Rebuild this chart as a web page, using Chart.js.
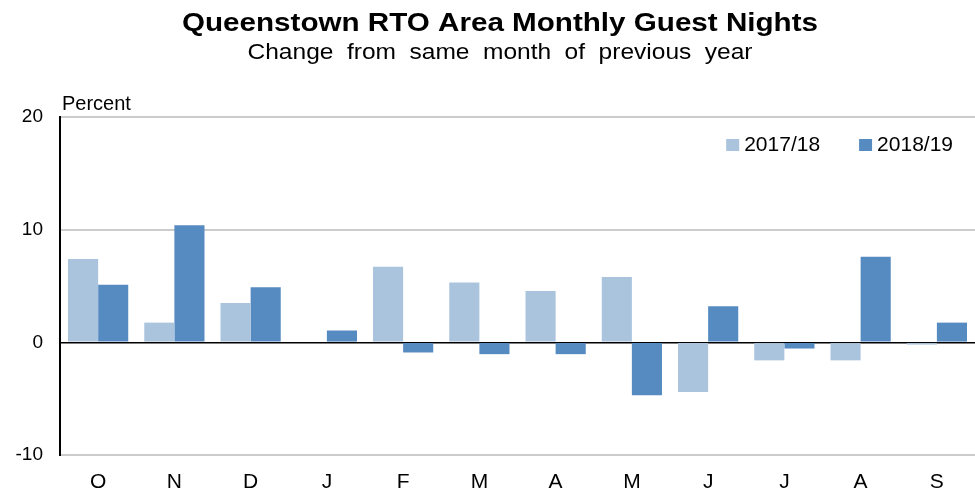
<!DOCTYPE html>
<html>
<head>
<meta charset="utf-8">
<script src="https://cdn.jsdelivr.net/npm/chart.js@4"></script>
<style>
  html, body { margin: 0; padding: 0; background: #fff; }
  #wrap { width: 975px; height: 494px; }
</style>
</head>
<body>
<div id="wrap"><canvas id="chart"></canvas></div>
<script>
const months = ['O', 'N', 'D', 'J', 'F', 'M', 'A', 'M', 'J', 'J', 'A', 'S'];
const season1718 = [7.4, 1.75, 3.5, 0, 6.7, 5.3, 4.55, 5.8, -4.4, -1.6, -1.6, -0.2];
const season1819 = [5.1, 10.4, 4.9, 1.05, -0.9, -1.05, -1.05, -4.7, 3.2, -0.55, 7.6, 1.75];
const yTicks = [-10, 0, 10, 20];

const titleText = 'Queenstown RTO Area Monthly Guest Nights';
const subtitleText = 'Change from same month of previous year';
const fontFamily = '"Liberation Sans", Arial, sans-serif';

// draw text stretched sideways so it fills the given width
function stretchedText(ctx, text, cx, cy, width) {
  const w = ctx.measureText(text).width;
  ctx.save();
  ctx.translate(cx, cy);
  ctx.scale(width / w, 1);
  ctx.fillText(text, 0, 0);
  ctx.restore();
}

// titles, axis unit label and legend drawn by hand so the layout stays put
const decorations = {
  id: 'decorations',
  afterDraw(chart) {
    const ctx = chart.ctx;
    const area = chart.chartArea;
    ctx.save();
    ctx.fillStyle = '#000';
    ctx.textAlign = 'center';
    ctx.textBaseline = 'middle';
    ctx.font = 'bold 25px ' + fontFamily;
    stretchedText(ctx, titleText, 500, 24, 636);
    ctx.font = '22px ' + fontFamily;
    if ('wordSpacing' in ctx) ctx.wordSpacing = '6px';
    stretchedText(ctx, subtitleText, 500, 53, 505);
    if ('wordSpacing' in ctx) ctx.wordSpacing = '0px';

    ctx.textAlign = 'left';
    ctx.font = '20px ' + fontFamily;
    ctx.fillText('Percent', 62, 104);

    // legend, top right inside the plot
    ctx.font = '21px ' + fontFamily;
    const items = chart.data.datasets.map(d => ({ label: d.label, color: d.backgroundColor }));
    let x = area.right - 22;
    for (let i = items.length - 1; i >= 0; i--) {
      const w = ctx.measureText(items[i].label).width;
      ctx.fillText(items[i].label, x - w, 145);
      ctx.fillStyle = items[i].color;
      ctx.fillRect(x - w - 18, 139, 13, 12);
      ctx.fillStyle = '#000';
      x = x - w - 57;
    }
    ctx.restore();
  }
};

new Chart(document.getElementById('chart'), {
  type: 'bar',
  data: {
    labels: months,
    datasets: [
      { label: '2017/18', data: season1718, backgroundColor: '#abc4de' },
      { label: '2018/19', data: season1819, backgroundColor: '#568bc1' }
    ]
  },
  options: {
    responsive: true,
    maintainAspectRatio: false,
    animation: false,
    layout: { padding: { top: 117, right: 0, left: 0, bottom: 0 } },
    datasets: { bar: { categoryPercentage: 0.79, barPercentage: 1.0 } },
    plugins: {
      legend: { display: false },
      tooltip: { enabled: false }
    },
    scales: {
      x: {
        grid: { display: false },
        border: { display: false },
        ticks: { color: '#000', font: { family: fontFamily, size: 21 }, padding: 7 },
        afterFit(scale) { scale.height = 39; }
      },
      y: {
        min: -10,
        max: 20,
        afterBuildTicks(scale) { scale.ticks = yTicks.map(v => ({ value: v })); },
        grid: {
          drawTicks: false,
          color: ctx => ctx.tick && ctx.tick.value === 0 ? '#000' : '#cccccc',
          lineWidth: ctx => ctx.tick && ctx.tick.value === 0 ? 1.5 : 2
        },
        border: { display: true, color: '#000', width: 2 },
        ticks: { color: '#000', font: { family: fontFamily, size: 19 }, padding: 17 },
        afterFit(scale) { scale.width = 60; }
      }
    }
  },
  plugins: [decorations]
});
</script>
</body>
</html>
